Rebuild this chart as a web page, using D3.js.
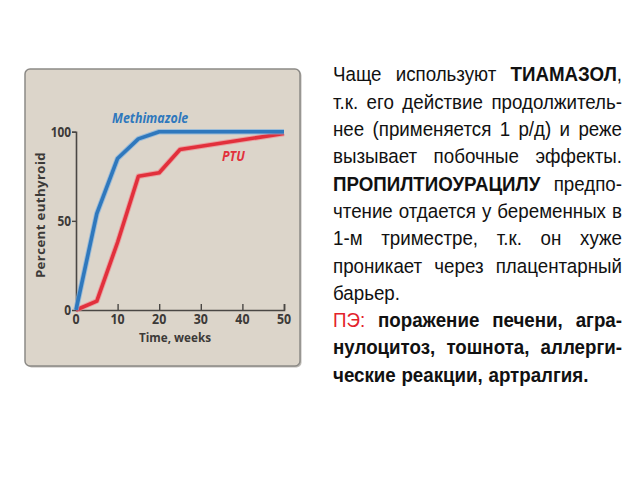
<!DOCTYPE html>
<html><head><meta charset="utf-8">
<script src="https://cdn.jsdelivr.net/npm/d3@7"></script>
<style>body{margin:0;background:#fff;}svg{display:block;}</style>
</head><body>
<svg id="c" width="640" height="480"></svg>
<script>
// ---- data ----
const methWeeks = [0, 5, 10, 15, 20, 50];
const methValues = [0, 54, 85, 96, 100, 100];
const ptuWeeks = [0, 5, 10, 15, 20, 25, 50];
const ptuValues = [0, 5, 38, 75, 77, 90, 99];
const xTicks = [0, 10, 20, 30, 40, 50];
const yTicks = [0, 50, 100];
const seriesLabels = ["Methimazole", "PTU"];
const xTitle = "Time, weeks";
const yTitle = "Percent euthyroid";
// text block: each line = list of [word, style]; style: n normal, b bold, r red
const textLines = [
  [["Чаще","n"],["используют","n"],["ТИАМАЗОЛ","b",","]],
  [["т.к.","n"],["его","n"],["действие","n"],["продолжитель-","n"]],
  [["нее","n"],["(применяется","n"],["1","n"],["р/д)","n"],["и","n"],["реже","n"]],
  [["вызывает","n"],["побочные","n"],["эффекты.","n"]],
  [["ПРОПИЛТИОУРАЦИЛУ","b"],["предпо-","n"]],
  [["чтение","n"],["отдается","n"],["у","n"],["беременных","n"],["в","n"]],
  [["1-м","n"],["триместре,","n"],["т.к.","n"],["он","n"],["хуже","n"]],
  [["проникает","n"],["через","n"],["плацентарный","n"]],
  [["барьер.","n"]],
  [["ПЭ:","r"],["поражение","b"],["печени,","b"],["агра-","b"]],
  [["нулоцитоз,","b"],["тошнота,","b"],["аллерги-","b"]],
  [["ческие","b"],["реакции,","b"],["артралгия.","b"]]
];
const justified = [true,true,true,true,true,true,true,true,false,true,true,false];

const svg = d3.select("#c");

// ---- chart panel ----
const panel = {x: 25, y: 69, w: 275, h: 297};
svg.append("rect").attr("x", panel.x+1.5).attr("y", panel.y+1.5).attr("width", panel.w).attr("height", panel.h)
  .attr("rx", 5).attr("fill", "#bdbab5");
svg.append("rect").attr("x", panel.x).attr("y", panel.y).attr("width", panel.w).attr("height", panel.h)
  .attr("rx", 5).attr("fill", "#dcd5ca").attr("stroke", "#8c8a86").attr("stroke-width", 1.5);

const x = d3.scaleLinear().domain([0, 50]).range([76, 284]);
const y = d3.scaleLinear().domain([0, 100]).range([310, 131.7]);
const axisColor = "#4a4744";
const tickFont = "'Open Sans', sans-serif";

const g = svg.append("g");
// x axis
const xa = g.append("g").attr("transform", `translate(0,${y(0)})`)
  .call(d3.axisTop(x).tickValues(xTicks).tickSize(6).tickFormat(""));
xa.select(".domain").attr("stroke", axisColor).attr("stroke-width", 1.6);
xa.selectAll(".tick line").attr("stroke", axisColor).attr("stroke-width", 1.4);
xa.selectAll(".tick").filter(d => d === 0).select("line").remove();
g.selectAll(".xlab").data(xTicks).enter().append("text")
  .attr("x", d => x(d)).attr("y", y(0) + 14.5).attr("text-anchor", "middle")
  .attr("font-family", tickFont).attr("font-weight", 700).attr("font-size", 13.5)
  .attr("fill", "#3c3a38").attr("transform", d => `translate(${x(d)},0) scale(0.92,1) translate(${-x(d)},0)`)
  .text(d => d);
// y axis
const ya = g.append("g").attr("transform", `translate(${x(0)},0)`)
  .call(d3.axisLeft(y).tickValues(yTicks).tickSize(4).tickFormat(""));
ya.select(".domain").attr("stroke", axisColor).attr("stroke-width", 1.6);
ya.selectAll(".tick line").attr("stroke", axisColor).attr("stroke-width", 1.4);
ya.selectAll(".tick").filter(d => d === 0).select("line").remove();
g.selectAll(".ylab").data(yTicks).enter().append("text")
  .attr("x", x(0) - 5).attr("y", d => y(d) + 5).attr("text-anchor", "end")
  .attr("font-family", tickFont).attr("font-weight", 700).attr("font-size", 13.5)
  .attr("fill", "#3c3a38")
  .attr("transform", `translate(${x(0)-5},0) scale(0.88,1) translate(${-(x(0)-5)},0)`)
  .text(d => d);
// titles
const xtx = 175;
g.append("text").attr("x", xtx).attr("y", 342).attr("text-anchor", "middle")
  .attr("font-family", tickFont).attr("font-weight", 700).attr("font-size", 13).attr("fill", "#3c3a38")
  .attr("transform", `translate(${xtx},0) scale(0.9,1) translate(${-xtx},0)`)
  .text(xTitle);
g.append("text").attr("transform", `translate(45,215) rotate(-90)`)
  .attr("text-anchor", "middle").attr("letter-spacing", 0.4)
  .attr("font-family", tickFont).attr("font-weight", 700).attr("font-size", 13.2).attr("fill", "#3c3a38")
  .text(yTitle);

// lines
const line = d3.line().x(d => x(d[0])).y(d => y(d[1]));
const methData = methWeeks.map((w, i) => [w, methValues[i]]);
const ptuData = ptuWeeks.map((w, i) => [w, ptuValues[i]]);
const blue = "#2f78bd", red = "#e2303c";
[[ptuData, red, "#f08a90"], [methData, blue, "#7fb0de"]].forEach(([d, c, halo]) => {
  g.append("path").datum(d).attr("d", line).attr("fill", "none").attr("stroke", halo)
    .attr("stroke-width", 5.5).attr("stroke-linejoin", "round").attr("opacity", 0.7);
  g.append("path").datum(d).attr("d", line).attr("fill", "none").attr("stroke", c)
    .attr("stroke-width", 3.6).attr("stroke-linejoin", "round");
});
g.append("text").attr("x", 112).attr("y", 123.5).attr("font-family", tickFont)
  .attr("font-style", "italic").attr("font-weight", 700).attr("font-size", 13.5).attr("fill", blue)
  .attr("transform", "translate(112,0) scale(0.92,1) translate(-112,0)")
  .text(seriesLabels[0]);
g.append("text").attr("x", 222).attr("y", 161).attr("font-family", tickFont)
  .attr("font-style", "italic").attr("font-weight", 700).attr("font-size", 13.5).attr("fill", red)
  .attr("transform", "translate(222,0) scale(0.92,1) translate(-222,0)")
  .text(seriesLabels[1]);

// ---- text block ----
const tx0 = 333, tx1 = 622, base0 = 81.5, lh = 27.3, fs = 20.5, sx = 0.915;
const tg = svg.append("g").attr("transform", `translate(${tx0},0) scale(${sx},1)`);
const W = (tx1 - tx0) / sx;
textLines.forEach((words, li) => {
  const yb = base0 + li * lh;
  const els = words.map(([w, st, tail]) => {
    const t = tg.append("text").attr("y", yb).attr("font-family", "'Liberation Sans', Arial, sans-serif")
      .attr("font-size", fs).attr("fill", st === "r" ? "#e3222b" : "#111")
      .attr("font-weight", st === "b" ? 700 : 400);
    t.append("tspan").text(w);
    if (tail) t.append("tspan").attr("font-weight", 400).text(tail);
    return t;
  });
  const widths = els.map(e => e.node().getComputedTextLength());
  const total = d3.sum(widths);
  const space = fs * 0.3;
  const gap = justified[li] && els.length > 1 ? (W - total) / (els.length - 1) : space;
  let cx = 0;
  els.forEach((e, i) => { e.attr("x", cx); cx += widths[i] + gap; });
});
</script>
</body></html>
